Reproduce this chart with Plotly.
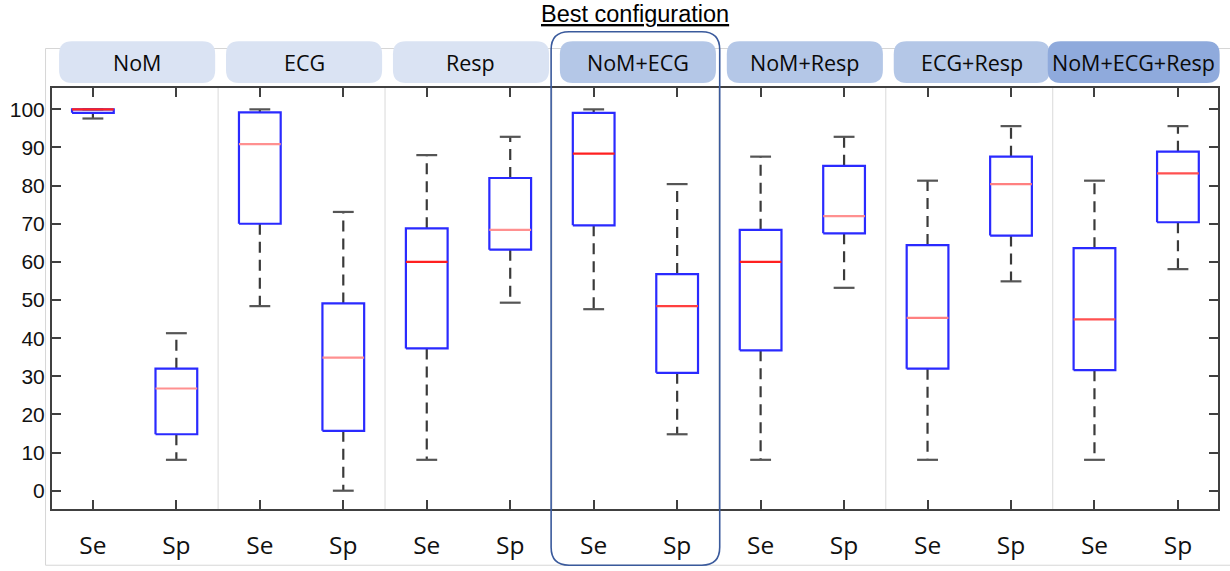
import plotly.graph_objects as go

# ---------------- data ----------------
groups = ["NoM", "ECG", "Resp", "NoM+ECG", "NoM+Resp", "ECG+Resp", "NoM+ECG+Resp"]
metrics = ["Se", "Sp"]
lower_whisker = [97.6, 8.1, 48.4, 0.0, 8.1, 49.3, 47.6, 14.8, 8.1, 53.2, 8.1, 54.9, 8.1, 58.1]
q1 = [99.1, 14.8, 70.0, 15.7, 37.3, 63.2, 69.6, 30.9, 36.8, 67.5, 32.0, 66.9, 31.6, 70.4]
median = [100.0, 26.8, 90.9, 34.9, 60.0, 68.4, 88.4, 48.4, 60.0, 72.0, 45.3, 80.4, 44.9, 83.2]
q3 = [100.0, 32.0, 99.2, 49.1, 68.8, 82.0, 99.1, 56.8, 68.4, 85.2, 64.4, 87.6, 63.6, 88.9]
upper_whisker = [100.0, 41.3, 100.0, 73.1, 88.0, 92.8, 100.0, 80.4, 87.6, 92.8, 81.3, 95.6, 81.3, 95.6]
y_ticks = [0, 10, 20, 30, 40, 50, 60, 70, 80, 90, 100]
best_group = "NoM+ECG"
title_text = "Best configuration"

# ---------------- styles ----------------
pill_colors = ["#dae3f3", "#dae3f3", "#dae3f3", "#b4c7e7", "#b4c7e7", "#b4c7e7", "#8faadc"]
median_colors = ["#ff2020", "#ff9090", "#ff9090", "#ff9090", "#ff2020", "#ff9090", "#ff2020",
                 "#ff4040", "#ff2020", "#ff9090", "#ff8080", "#ff8080", "#ff5050", "#ff5050"]
box_color = "#2a2aff"
whisker_color = "#3a3a3a"
cap_color = "#555555"
axis_color = "#404040"

W, H = 1230, 571
ML, MR, MT, MB = 48, 10, 88, 60
XR = [-0.49, 13.48]
YR = [-4.8, 105.6]
PW, PH = W - ML - MR, H - MT - MB
BOX_HALF = 0.25
CAP_HALF = 0.125


def dx(x):  # data x -> paper
    return (x - XR[0]) / (XR[1] - XR[0])


def px_x(p):  # pixel x -> paper
    return (p - ML) / PW


def px_y(p):  # pixel y -> paper
    return (H - MB - p) / PH


def rrect(x0, x1, y0, y1, r):
    rx, ry = r / PW, r / PH
    return (f"M {x0+rx},{y0} L {x1-rx},{y0} Q {x1},{y0} {x1},{y0+ry} "
            f"L {x1},{y1-ry} Q {x1},{y1} {x1-rx},{y1} L {x0+rx},{y1} "
            f"Q {x0},{y1} {x0},{y1-ry} L {x0},{y0+ry} Q {x0},{y0} {x0+rx},{y0} Z")


n = len(groups) * len(metrics)
xs = list(range(n))
tick_text = [metrics[i % 2] for i in xs]

fig = go.Figure()

# whiskers (dashed)
wx, wy = [], []
for i in xs:
    wx += [i, i, None, i, i, None]
    wy += [q3[i], upper_whisker[i], None, q1[i], lower_whisker[i], None]
fig.add_trace(go.Scatter(x=wx, y=wy, mode="lines", hoverinfo="skip",
                         line=dict(color=whisker_color, width=2.2, dash="11px,7px")))

# caps
cx, cy = [], []
for i in xs:
    cx += [i - CAP_HALF, i + CAP_HALF, None, i - CAP_HALF, i + CAP_HALF, None]
    cy += [upper_whisker[i], upper_whisker[i], None, lower_whisker[i], lower_whisker[i], None]
fig.add_trace(go.Scatter(x=cx, y=cy, mode="lines", hoverinfo="skip",
                         line=dict(color=cap_color, width=2.2)))

# boxes
bx, by = [], []
for i in xs:
    bx += [i - BOX_HALF, i + BOX_HALF, i + BOX_HALF, i - BOX_HALF, i - BOX_HALF, None]
    by += [q1[i], q1[i], q3[i], q3[i], q1[i], None]
fig.add_trace(go.Scatter(x=bx, y=by, mode="lines", hoverinfo="skip",
                         line=dict(color=box_color, width=2.2)))

# medians
for i in xs:
    fig.add_trace(go.Scatter(x=[i - BOX_HALF, i + BOX_HALF], y=[median[i], median[i]],
                             mode="lines", hoverinfo="skip",
                             line=dict(color=median_colors[i], width=2.2)))

shapes = []
# outer light frame
shapes.append(dict(type="rect", xref="paper", yref="paper",
                   x0=px_x(41.5), x1=px_x(1240), y0=px_y(567.5), y1=px_y(48.3),
                   line=dict(color="#d6d6d6", width=1), layer="below"))
# group separators
for g in range(1, len(groups)):
    xsep = 2 * g - 0.5
    shapes.append(dict(type="line", xref="paper", yref="paper", x0=dx(xsep), x1=dx(xsep),
                       y0=0, y1=1, line=dict(color="#d9d9d9", width=1), layer="below"))

annotations = []
# header pills
for g, name in enumerate(groups):
    c = 2 * g + 0.5
    half = 1.03 if g == len(groups) - 1 else 0.935
    shift = -0.03 if g == len(groups) - 1 else 0.03
    x0, x1 = dx(c - half + shift), dx(c + half + shift)
    shapes.append(dict(type="path", xref="paper", yref="paper",
                       path=rrect(x0, x1, px_y(83), px_y(41), 13),
                       fillcolor=pill_colors[g], line=dict(width=0), layer="above"))
    annotations.append(dict(xref="paper", yref="paper", x=(x0 + x1) / 2, y=px_y(62.5),
                            text=name, showarrow=False, xanchor="center", yanchor="middle",
                            font=dict(family="Open Sans", size=21.5, color="#0a0a0a")))

# highlight of the best configuration
bg = groups.index(best_group)
bc = 2 * bg + 0.5
shapes.append(dict(type="path", xref="paper", yref="paper",
                   path=rrect(dx(bc - 1.01), dx(bc + 1.01), px_y(567.5), px_y(31.5), 18),
                   line=dict(color="#3a5a9c", width=1.6), layer="above"))

annotations.append(dict(xref="paper", yref="paper", x=dx(bc), y=px_y(14),
                        text="<span style='text-decoration:underline'>" + title_text + "</span>",
                        showarrow=False, xanchor="center", yanchor="middle",
                        font=dict(family="Liberation Sans", size=23.5, color="#000000")))

fig.update_layout(
    width=W, height=H,
    margin=dict(l=ML, r=MR, t=MT, b=MB, pad=0),
    paper_bgcolor="white", plot_bgcolor="white",
    showlegend=False,
    shapes=shapes, annotations=annotations,
    xaxis=dict(range=XR, tickmode="array", tickvals=xs, ticktext=tick_text,
               ticks="inside", ticklen=9, tickwidth=2, tickcolor=axis_color,
               showline=True, linecolor=axis_color, linewidth=2, mirror="ticks",
               showgrid=False, zeroline=False, ticklabelstandoff=14,
               tickfont=dict(family="Open Sans", size=24.5, color="#111111")),
    yaxis=dict(range=YR, tickmode="array", tickvals=y_ticks,
               ticks="inside", ticklen=9, tickwidth=2, tickcolor=axis_color,
               showline=True, linecolor=axis_color, linewidth=2, mirror="ticks",
               showgrid=False, zeroline=False, ticklabelstandoff=1,
               tickfont=dict(family="Liberation Sans", size=21, color="#111111")),
)

fig.write_html("out.html")
